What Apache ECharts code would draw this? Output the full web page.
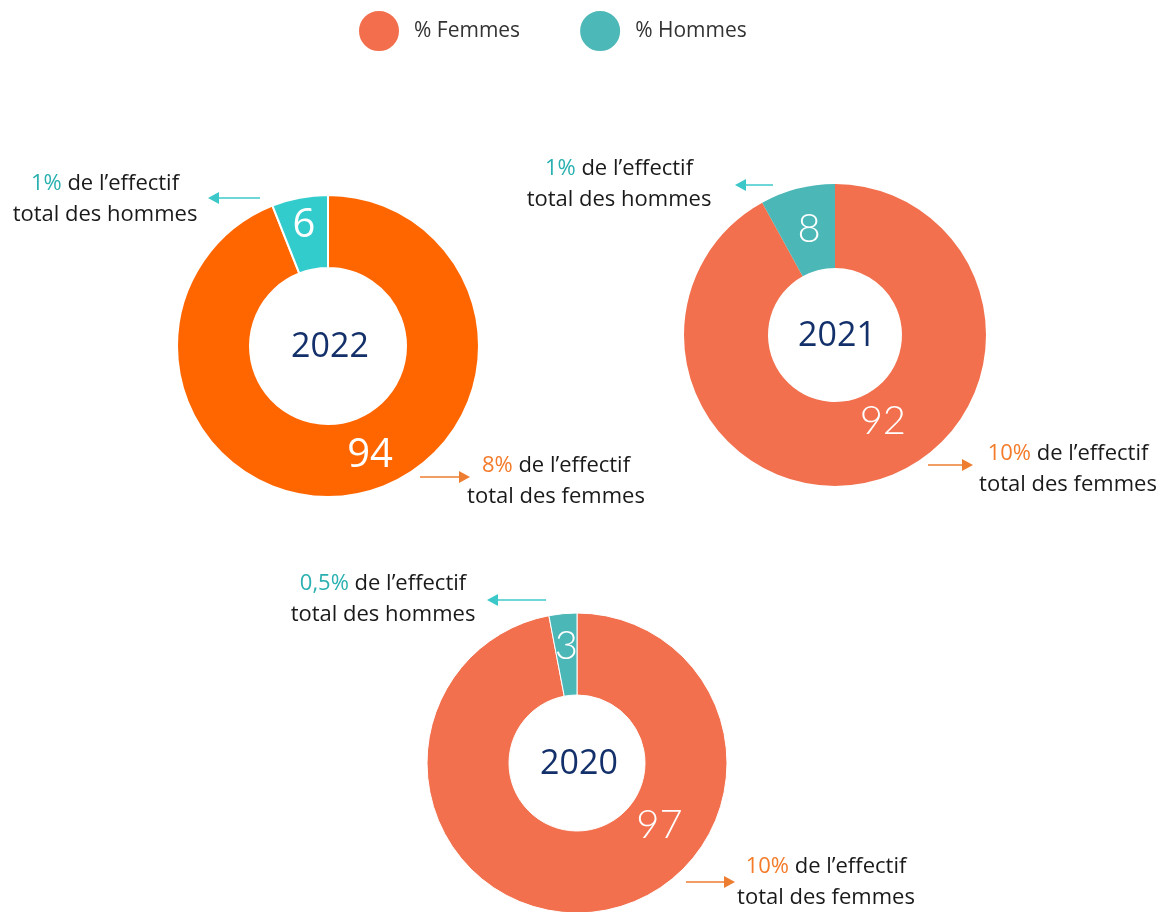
<!DOCTYPE html>
<html>
<head>
<meta charset="utf-8">
<script src="https://cdn.jsdelivr.net/npm/echarts@6/dist/echarts.min.js"></script>
<style>
  html, body { margin: 0; padding: 0; background: #fff; }
  #chart { width: 1169px; height: 912px; }
</style>
</head>
<body>
<div id="chart"></div>
<script>
// data
const years = ['2022', '2021', '2020']
const femmes = [94, 92, 97]
const hommes = [6, 8, 3]
const partHommes = ['1%', '1%', '0,5%']
const partFemmes = ['8%', '10%', '10%']
const legendNames = ['% Femmes', '% Hommes']

// layout / style per donut
const layout = [
    { center: [328, 346], radius: [78, 151], colors: ['#FF6600', '#33CCCC'], border: 2,
      font: "'Open Sans', sans-serif", weight: 'normal',
      offF: [20, -6], offH: [-2, -5],
      noteH: { x: 105, y: 168, a: [260, 208, 198] },
      noteF: { x: 556, y: 450, a: [420, 470, 477] } },
    { center: [835, 335], radius: [67, 151], colors: ['#F2704D', '#4BB7B7'], border: 0,
      font: "Lato, sans-serif", weight: 300,
      offF: [20, -22], offH: [2, 3],
      noteH: { x: 619, y: 153, a: [773, 735, 185] },
      noteF: { x: 1068, y: 438, a: [928, 973, 465] } },
    { center: [577, 763], radius: [68, 150], colors: ['#F2704D', '#4BB7B7'], border: 1,
      font: "Lato, sans-serif", weight: 300,
      offF: [72, -49], offH: [0, -5],
      noteH: { x: 383, y: 568, a: [546, 487, 600] },
      noteF: { x: 826, y: 851, a: [686, 735, 882] } }
]

const teal = '#2AB0B0'
const orange = '#F47B2A'
const noteFont = "'Open Sans', sans-serif"

const series = years.map((y, i) => {
    const L = layout[i]
    const lbl = (off) => ({
        show: true, position: 'inside', formatter: '{c}', color: '#fff',
        fontSize: 40, fontFamily: L.font, fontWeight: L.weight, offset: off
    })
    return {
        type: 'pie',
        name: y,
        center: L.center,
        radius: L.radius,
        startAngle: 90,
        clockwise: true,
        avoidLabelOverlap: false,
        itemStyle: { borderColor: '#fff', borderWidth: L.border },
        emphasis: { disabled: true },
        labelLine: { show: false },
        data: [
            { name: legendNames[0], value: femmes[i], itemStyle: { color: L.colors[0] }, label: lbl(L.offF) },
            { name: legendNames[1], value: hommes[i], itemStyle: { color: L.colors[1] }, label: lbl(L.offH) }
        ]
    }
})

const noteRich = {
    h: { color: teal, fontSize: 22, fontFamily: noteFont, lineHeight: 31 },
    f: { color: orange, fontSize: 22, fontFamily: noteFont, lineHeight: 31 }
}

const titles = []
years.forEach((y, i) => {
    const L = layout[i]
    titles.push({
        text: y, left: L.center[0] + 2, top: L.center[1] + 1, textAlign: 'center', textVerticalAlign: 'middle',
        padding: 0,
        textStyle: { color: '#13306A', fontSize: 34, fontWeight: 'normal', fontFamily: noteFont }
    })
    titles.push({
        text: '{h|' + partHommes[i] + '} de l’effectif\ntotal des hommes',
        left: L.noteH.x, top: L.noteH.y, textAlign: 'center', padding: 0,
        textStyle: { color: '#1a1a1a', fontSize: 22, fontWeight: 'normal', lineHeight: 31,
            fontFamily: noteFont, rich: noteRich }
    })
    titles.push({
        text: '{f|' + partFemmes[i] + '} de l’effectif\ntotal des femmes',
        left: L.noteF.x, top: L.noteF.y, textAlign: 'center', padding: 0,
        textStyle: { color: '#1a1a1a', fontSize: 22, fontWeight: 'normal', lineHeight: 31,
            fontFamily: noteFont, rich: noteRich }
    })
})

// small arrows next to the notes
const arrow = (x1, x2, y, color) => {
    const dir = x2 > x1 ? 1 : -1
    return [
        { type: 'line', shape: { x1: x1, y1: y, x2: x2 - dir * 8, y2: y }, style: { stroke: color, lineWidth: 1.5 }, silent: true },
        { type: 'polygon', shape: { points: [[x2, y], [x2 - dir * 11, y - 6], [x2 - dir * 11, y + 6]] }, style: { fill: color }, silent: true }
    ]
}
let graphics = []
layout.forEach(L => {
    graphics = graphics.concat(arrow(L.noteH.a[0], L.noteH.a[1], L.noteH.a[2], '#3CC8C8'))
    graphics = graphics.concat(arrow(L.noteF.a[0], L.noteF.a[1], L.noteF.a[2], '#ED7D31'))
})

const option = {
    animation: false,
    backgroundColor: '#fff',
    title: titles,
    legend: {
        top: 4,
        left: 352,
        icon: 'circle',
        itemWidth: 42,
        itemHeight: 42,
        itemGap: 58,
        selectedMode: false,
        textStyle: { fontSize: 21, color: '#333', fontFamily: noteFont, padding: [0, 0, 0, 9] },
        data: [
            { name: legendNames[0], itemStyle: { color: '#F26E4C' } },
            { name: legendNames[1], itemStyle: { color: '#4DB8B8' } }
        ]
    },
    graphic: graphics,
    series: series
}

const chart = echarts.init(document.getElementById('chart'))
chart.setOption(option)
</script>
</body>
</html>
